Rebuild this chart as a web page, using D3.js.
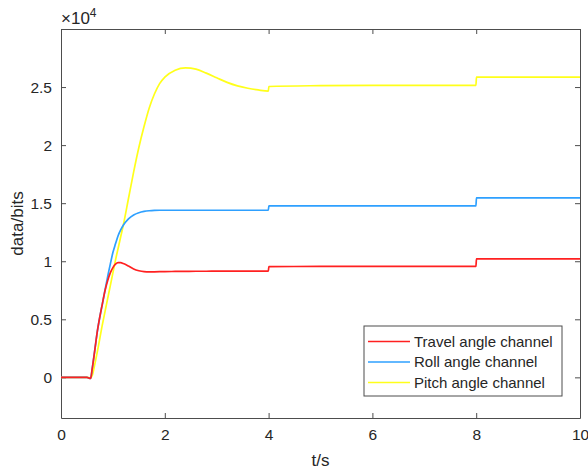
<!DOCTYPE html>
<html>
<head>
<meta charset="utf-8">
<script src="https://cdnjs.cloudflare.com/ajax/libs/d3/7.8.5/d3.min.js"></script>
<style>
	body { margin: 0; background: #fff; }
	text { font-family: "Liberation Sans", Arial, sans-serif; fill: #262626; }
</style>
</head>
<body>
<div id="chart"></div>
<script>
// sample times (s) - steps at t=4 and t=8 use two close points
var times = [0, 0.5, 0.57, 0.6, 0.65, 0.7, 0.8, 0.85, 0.9, 0.95, 1.0, 1.05, 1.1, 1.15, 1.2, 1.3, 1.4, 1.5, 1.6, 1.7,
	1.8, 1.9, 2.0, 2.2, 2.4, 2.6, 2.8, 3.0, 3.2, 3.4, 3.6, 3.8, 3.995, 4.005, 5, 6, 7, 7.995, 8.005, 9, 10];

var travel = [0, 0, -100, 700, 2300, 3950, 6400, 7500, 8350, 9000, 9450, 9750, 9880, 9880, 9800, 9580, 9330, 9180, 9100, 9080,
	9090, 9100, 9110, 9120, 9130, 9140, 9140, 9150, 9150, 9150, 9150, 9150, 9150, 9540, 9550, 9560, 9560, 9560, 10200, 10200, 10200];

var roll = [0, 0, -100, 700, 2300, 3950, 6400, 7550, 8700, 9750, 10750, 11500, 12200, 12700, 13100, 13650, 13990, 14180, 14290, 14350,
	14380, 14390, 14390, 14390, 14390, 14390, 14390, 14390, 14390, 14390, 14390, 14390, 14390, 14770, 14770, 14770, 14770, 14770, 15450, 15450, 15450];

var pitch = [0, 0, -50, 150, 1100, 2200, 4600, 5700, 6800, 7900, 9000, 10100, 11100, 12100, 13100, 15400, 17700, 19800, 21600, 23200,
	24400, 25300, 25850, 26450, 26650, 26550, 26200, 25800, 25400, 25100, 24900, 24750, 24650, 25050, 25120, 25150, 25150, 25150, 25850, 25850, 25850];

var seriesNames = ["Travel angle channel", "Roll angle channel", "Pitch angle channel"];
var seriesColors = ["#ff2020", "#2ea0ff", "#ffff1a"];
var xTicks = [0, 2, 4, 6, 8, 10];
var yTicks = [0, 5000, 10000, 15000, 20000, 25000];

var W = 588, H = 473;
var margin = { top: 29, right: 8, bottom: 55, left: 61 },
	width = W - margin.left - margin.right,
	height = H - margin.top - margin.bottom;

var svg = d3.select("#chart").append("svg")
	.attr("width", W)
	.attr("height", H);

var g = svg.append("g")
	.attr("transform", "translate(" + margin.left + "," + margin.top + ")");

var x = d3.scaleLinear().domain([0, 10]).range([0, width]);
var y = d3.scaleLinear().domain([-3500, 30000]).range([height, 0]);

// axes, ticks pointing inward like matlab
var fmtY = function(d) { return d / 10000; };

var axB = g.append("g")
	.attr("transform", "translate(0," + height + ")")
	.call(d3.axisBottom(x).tickValues(xTicks).tickSizeInner(-5).tickSizeOuter(0).tickPadding(11));
var axT = g.append("g")
	.call(d3.axisTop(x).tickValues(xTicks).tickSizeInner(-5).tickSizeOuter(0).tickFormat(""));
var axL = g.append("g")
	.call(d3.axisLeft(y).tickValues(yTicks).tickSizeInner(-5).tickSizeOuter(0).tickPadding(9).tickFormat(fmtY));
var axR = g.append("g")
	.attr("transform", "translate(" + width + ",0)")
	.call(d3.axisRight(y).tickValues(yTicks).tickSizeInner(-5).tickSizeOuter(0).tickFormat(""));

[axB, axT, axL, axR].forEach(function(a) {
	a.selectAll(".domain").attr("stroke", "#4d4d4d").attr("stroke-width", 1);
	a.selectAll(".tick line").attr("stroke", "#4d4d4d");
	a.selectAll("text").attr("fill", "#262626")
		.style("font-family", "Liberation Sans, Arial, sans-serif")
		.style("font-size", "15.5px");
});

// lines
var series = [travel, roll, pitch];
var line = d3.line()
	.x(function(d) { return x(d[0]); })
	.y(function(d) { return y(d[1]); })
	.curve(d3.curveMonotoneX);

// draw pitch first so travel sits on top near the start
[2, 1, 0].forEach(function(k) {
	var pts = times.map(function(t, i) { return [t, series[k][i]]; });
	g.append("path")
		.datum(pts)
		.attr("fill", "none")
		.attr("stroke", seriesColors[k])
		.attr("stroke-width", 1.7)
		.attr("stroke-linejoin", "round")
		.attr("d", line);
});

// exponent label
var expo = svg.append("text")
	.attr("x", 61)
	.attr("y", 24)
	.style("font-size", "17px");
expo.append("tspan").text("\u00d710");
expo.append("tspan").attr("dy", -7).style("font-size", "12px").text("4");

// axis titles
svg.append("text")
	.attr("x", margin.left + width / 2)
	.attr("y", 466)
	.attr("text-anchor", "middle")
	.style("font-size", "17px")
	.text("t/s");

svg.append("text")
	.attr("transform", "translate(23," + (margin.top + height / 2) + ")rotate(-90)")
	.attr("text-anchor", "middle")
	.style("font-size", "17px")
	.text("data/bits");

// legend
var legend = svg.append("g").attr("transform", "translate(364,326)");
legend.append("rect")
	.attr("width", 198)
	.attr("height", 70)
	.attr("fill", "#fff")
	.attr("stroke", "#4d4d4d")
	.attr("stroke-width", 1);

var items = legend.selectAll(".item")
	.data(seriesNames)
	.enter().append("g")
	.attr("class", "item")
	.attr("transform", function(d, i) { return "translate(0," + (15.5 + i * 20.5) + ")"; });

items.append("line")
	.attr("x1", 4).attr("x2", 46)
	.attr("stroke", function(d, i) { return seriesColors[i]; })
	.attr("stroke-width", 1.7);

items.append("text")
	.attr("x", 50)
	.attr("dy", "0.35em")
	.style("font-size", "15px")
	.text(function(d) { return d; });
</script>
</body>
</html>
